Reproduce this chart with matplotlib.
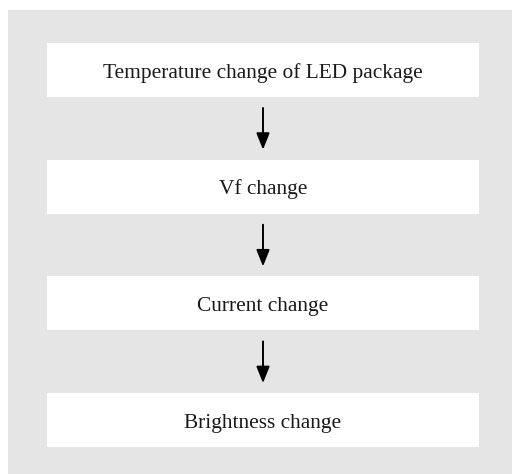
import matplotlib.pyplot as plt
from matplotlib.patches import Rectangle

# flow steps, top to bottom
steps = ['Temperature change of LED package', 'Vf change', 'Current change', 'Brightness change']

W, H = 512, 474
fig = plt.figure(figsize=(W / 100, H / 100), dpi=100)
ax = fig.add_axes([0, 0, 1, 1])
ax.set_xlim(0, W)
ax.set_ylim(H, 0)
ax.axis('off')

# gray panel
ax.add_patch(Rectangle((8, 10), W - 8, H - 10, facecolor='#e5e5e5', edgecolor='none'))

box_x, box_w, box_h = 47, 432, 54
top0, pitch = 43, 116.7
cx = box_x + box_w / 2

for i, label in enumerate(steps):
    top = top0 + i * pitch
    ax.add_patch(Rectangle((box_x, top), box_w, box_h, facecolor='white', edgecolor='none'))
    ax.text(cx, top + box_h / 2 + 7.5, label, ha='center', va='baseline',
            fontsize=15.4, family='Liberation Serif', color='#1a1a1a')
    if i < len(steps) - 1:
        y0 = top + box_h + 11
        y1 = top + pitch - 10
        ax.annotate('', xy=(cx, y1), xytext=(cx, y0),
                    arrowprops=dict(arrowstyle='-|>,head_length=1.0,head_width=0.4',
                                    mutation_scale=10, color='black', lw=1.4,
                                    shrinkA=0, shrinkB=0))

fig.savefig('out.png', dpi=100)
